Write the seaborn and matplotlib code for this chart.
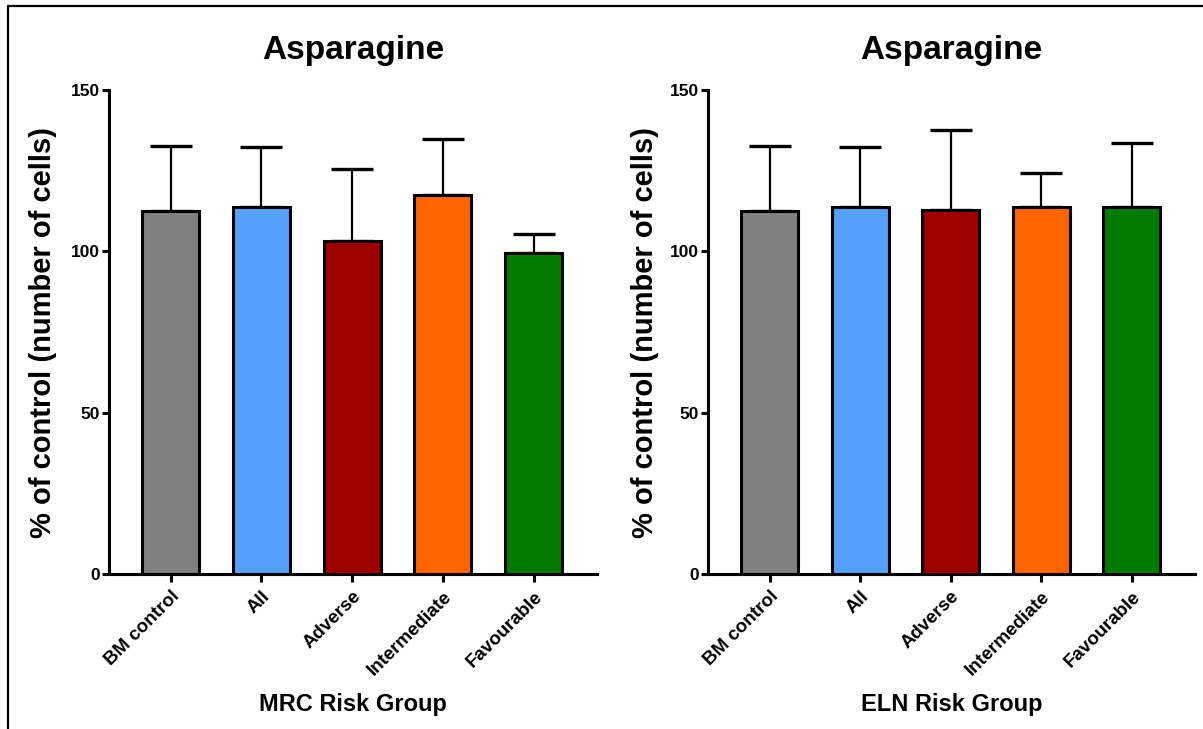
import matplotlib
matplotlib.use("Agg")
import matplotlib.pyplot as plt
from matplotlib.lines import Line2D
import seaborn as sns
import numpy as np

# Data: mean % of control (number of cells) and upper SD per risk group
groups = ["BM control", "All", "Adverse", "Intermediate", "Favourable"]
colors = ["#808080", "#55A0FB", "#9E0000", "#FF6400", "#007A00"]

mrc_mean = [112.6, 113.7, 103.2, 117.4, 99.6]
mrc_sd = [19.9, 18.5, 22.3, 17.5, 5.9]

eln_mean = [112.6, 113.7, 112.8, 113.9, 113.8]
eln_sd = [19.9, 18.5, 24.7, 10.5, 19.8]

title_text = "Asparagine"
ylabel_text = "% of control (number of cells)"
xlabels = ["MRC Risk Group", "ELN Risk Group"]
yticks = [0, 50, 100, 150]

sns.set_style("ticks")
plt.rcParams["font.family"] = ["Liberation Sans", "DejaVu Sans"]
plt.rcParams["font.weight"] = "bold"
for key in ["text.color", "axes.labelcolor", "xtick.color", "ytick.color",
            "axes.edgecolor"]:
    plt.rcParams[key] = "black"

fig = plt.figure(figsize=(12.03, 7.29), dpi=100)
ax_l = fig.add_axes([0.0906, 0.2126, 0.4057, 0.6639])
ax_r = fig.add_axes([0.5885, 0.2126, 0.4049, 0.6639])

lw = 2.2
for ax, means, sds, xl in [(ax_l, mrc_mean, mrc_sd, xlabels[0]),
                           (ax_r, eln_mean, eln_sd, xlabels[1])]:
    sns.barplot(x=groups, y=means, hue=groups, palette=colors, legend=False,
                width=0.63, edgecolor="black", linewidth=lw, saturation=1,
                ax=ax, zorder=3)
    pos = np.arange(len(groups))
    ax.errorbar(pos, means, yerr=[np.zeros(len(sds)), sds], fmt="none",
                ecolor="black", elinewidth=1.6, capsize=15, capthick=2.4,
                zorder=2)
    ax.set_ylim(0, 150)
    ax.set_xlim(-0.68, 4.70)
    ax.set_yticks(yticks)
    ax.set_yticklabels([str(t) for t in yticks], fontsize=12.5,
                       fontweight="bold", color="black")
    ax.set_xticks(pos)
    ax.set_xticklabels(groups, rotation=45, ha="right", rotation_mode="anchor",
                       fontsize=13.5, fontweight="bold", color="black")
    ax.tick_params(axis="y", length=5, width=lw, pad=1.5, color="black")
    ax.tick_params(axis="x", length=6, width=lw, pad=4, color="black")
    for s in ["top", "right"]:
        ax.spines[s].set_visible(False)
    for s in ["left", "bottom"]:
        ax.spines[s].set_linewidth(lw)
        ax.spines[s].set_color("black")
    ax.set_title(title_text, fontsize=24, fontweight="bold", pad=22,
                 color="black")
    ax.set_ylabel(ylabel_text, fontsize=21, fontweight="bold", color="black")
    ax.set_xlabel(xl, fontsize=17, fontweight="bold", color="black")
    ax.xaxis.set_label_coords(0.5, -0.245)

ax_l.yaxis.set_label_coords(-0.106, 0.5)
ax_r.yaxis.set_label_coords(-0.101, 0.5)

# Frame lines along the top and left edges of the figure
fig.add_artist(Line2D([8 / 1203, 1.0], [1 - 6 / 729, 1 - 6 / 729],
                      transform=fig.transFigure, color="black", lw=1.6))
fig.add_artist(Line2D([8 / 1203, 8 / 1203], [0.0, 1 - 6 / 729],
                      transform=fig.transFigure, color="black", lw=1.6))

fig.savefig("out.png", dpi=100)
